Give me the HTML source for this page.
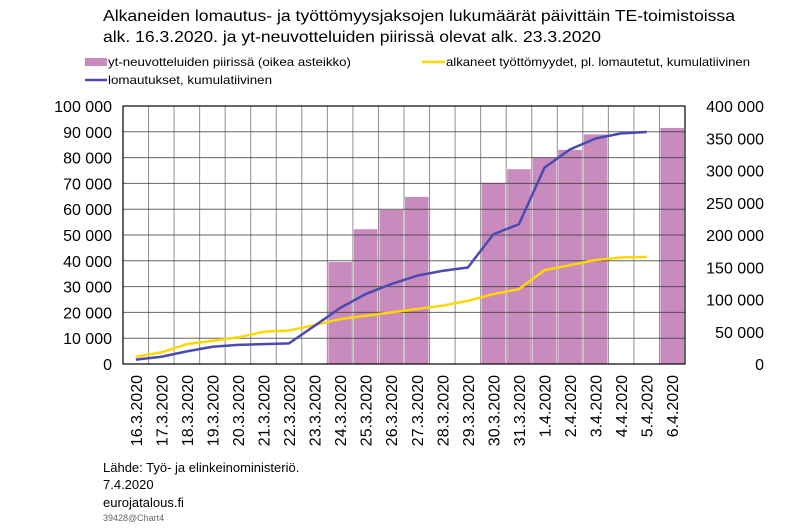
<!DOCTYPE html>
<html><head><meta charset="utf-8"><style>
body{margin:0;background:#fff;width:800px;height:523px;overflow:hidden}
svg text{font-family:"Liberation Sans",Arial,sans-serif;fill:#000}
</style></head><body>
<svg width="800" height="523" viewBox="0 0 800 523">
<text x="103" y="21" font-size="16" textLength="632" lengthAdjust="spacingAndGlyphs">Alkaneiden lomautus- ja työttömyysjaksojen lukumäärät päivittäin TE-toimistoissa</text>
<text x="103" y="42" font-size="16" textLength="498" lengthAdjust="spacingAndGlyphs">alk. 16.3.2020. ja yt-neuvotteluiden piirissä olevat alk. 23.3.2020</text>
<g>
<rect x="85" y="58" width="22" height="8" fill="#c98bbd"/>
<text x="108" y="66" font-size="12" textLength="243" lengthAdjust="spacingAndGlyphs">yt-neuvotteluiden piirissä (oikea asteikko)</text>
<line x1="422" y1="62" x2="445" y2="62" stroke="#ffd700" stroke-width="2.5"/>
<text x="446" y="66" font-size="12" textLength="304" lengthAdjust="spacingAndGlyphs">alkaneet työttömyydet, pl. lomautetut, kumulatiivinen</text>
<line x1="85" y1="80" x2="107" y2="80" stroke="#4a4ab0" stroke-width="2.5"/>
<text x="108" y="84" font-size="12" textLength="164" lengthAdjust="spacingAndGlyphs">lomautukset, kumulatiivinen</text>
</g>
<g id="plot"></g>
<text x="103" y="472" font-size="13">Lähde: Työ- ja elinkeinoministeriö.</text>
<text x="103" y="489" font-size="13">7.4.2020</text>
<text x="103" y="507" font-size="13">eurojatalous.fi</text>
<text x="103" y="521" font-size="9" style="fill:#666">39428@Chart4</text>
</svg>
<script>
const categories=["16.3.2020","17.3.2020","18.3.2020","19.3.2020","20.3.2020","21.3.2020","22.3.2020","23.3.2020","24.3.2020","25.3.2020","26.3.2020","27.3.2020","28.3.2020","29.3.2020","30.3.2020","31.3.2020","1.4.2020","2.4.2020","3.4.2020","4.4.2020","5.4.2020","6.4.2020"];
const ytBars=[null,null,null,null,null,null,null,null,158000,209000,239000,259000,null,null,281000,302000,320000,332000,356000,null,null,366000];
const lomautukset=[1700,2800,4900,6700,7400,7700,8000,14800,21700,27100,31000,34200,36100,37400,50300,54200,76100,83200,87400,89400,89900,null];
const tyottomyydet=[2800,4500,7700,9000,10300,12500,13000,15100,17400,18700,20000,21300,22600,24500,27100,29000,36400,38300,40300,41300,41500,null];
const leftTicks=["0","10 000","20 000","30 000","40 000","50 000","60 000","70 000","80 000","90 000","100 000"];
const rightTicks=["0","50 000","100 000","150 000","200 000","250 000","300 000","350 000","400 000"];
const NS="http://www.w3.org/2000/svg";
const L=123,R=685,T=106,B=364;
const cw=(R-L)/categories.length;
const xc=i=>L+cw*(i+0.5);
const yl=v=>B-(v/100000)*(B-T);
const yr=v=>B-(v/400000)*(B-T);
const g=document.getElementById('plot');
function mk(t,a){const e=document.createElementNS(NS,t);for(const k in a)e.setAttribute(k,a[k]);g.appendChild(e);return e;}
for(let i=1;i<categories.length;i++){const e=mk('line',{x1:L+cw*i,x2:L+cw*i,y1:T,y2:B,stroke:'#909090','stroke-width':1});

}
ytBars.forEach((v,i)=>{if(v==null)return;const e=mk('rect',{x:L+cw*i+1,y:yr(v),width:cw-2,height:B-yr(v),fill:'#c98bbd'});

});
for(let i=1;i<leftTicks.length;i++){const y=yl(i*10000);const e=mk('line',{x1:L,x2:R,y1:y,y2:y,stroke:'#333','stroke-width':1,'stroke-opacity':0.75});

}
function line(data,col,name){let d='';data.forEach((v,i)=>{if(v==null)return;d+=(d?'L':'M')+xc(i)+','+yl(v);});const e=mk('path',{d:d,fill:'none',stroke:col,'stroke-width':2.5,'stroke-linejoin':'round'});

}
line(tyottomyydet,'#ffd700','line-tyottomyydet');
line(lomautukset,'#4a4ab0','line-lomautukset');
const fr=mk('rect',{x:L,y:T,width:R-L,height:B-T,fill:'none',stroke:'#000','stroke-width':1.2});


leftTicks.forEach((t,i)=>{const e=mk('text',{x:112,y:yl(i*10000)+6,'font-size':16,'text-anchor':'end'});e.textContent=t;

});
rightTicks.forEach((t,i)=>{const e=mk('text',{x:764,y:yr(i*50000)+6,'font-size':16,'text-anchor':'end'});e.textContent=t;

});
categories.forEach((c,i)=>{const x=xc(i)+6,y=375;const e=mk('text',{x:x,y:y,'font-size':16,'text-anchor':'end',transform:'rotate(-90 '+x+' '+y+')'});e.textContent=c;

});
</script>
</body></html>
